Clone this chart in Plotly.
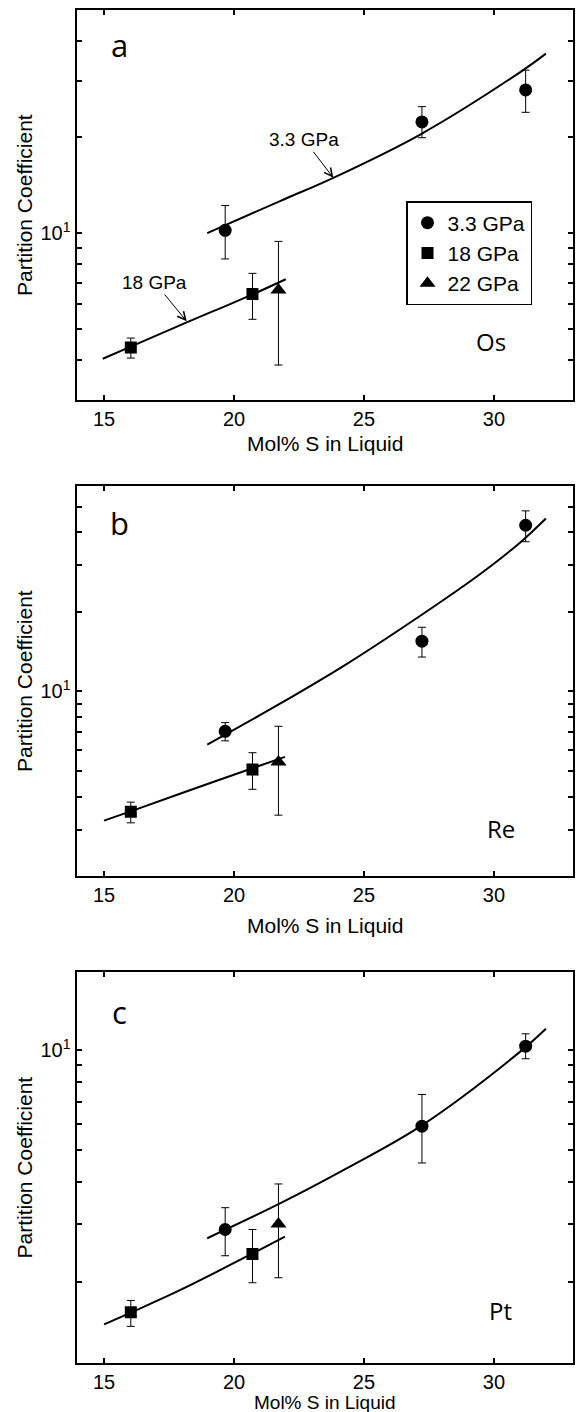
import numpy as np
import plotly.graph_objects as go

# ---------------- data ----------------
x_33 = [19.66, 27.23, 31.22]
x_18 = [16.03, 20.71]
x_22 = [21.71]

# Os
os_33 = [10.2, 22.3, 28.1]
os_33_hi = [12.2, 24.9, 32.4]
os_33_lo = [8.3, 19.9, 23.9]
os_18 = [4.38, 6.44]
os_18_hi = [4.69, 7.48]
os_18_lo = [4.06, 5.37]
os_22 = [6.63]
os_22_hi = [9.42]
os_22_lo = [3.86]

# Re
re_33 = [7.06, 15.5, 42.6]
re_33_hi = [7.62, 17.5, 48.3]
re_33_lo = [6.50, 13.5, 36.9]
re_18 = [3.50, 5.06]
re_18_hi = [3.81, 5.86]
re_18_lo = [3.18, 4.26]
re_22 = [5.41]
re_22_hi = [7.38]
re_22_lo = [3.40]

# Pt
pt_33 = [2.88, 5.90, 10.28]
pt_33_hi = [3.35, 7.35, 11.2]
pt_33_lo = [2.40, 4.57, 9.42]
pt_18 = [1.62, 2.43]
pt_18_hi = [1.76, 2.88]
pt_18_lo = [1.47, 1.99]
pt_22 = [2.99]
pt_22_hi = [3.95]
pt_22_lo = [2.06]

# fitted curves
fit33_x_os = [18.97, 21.77, 23.82, 27.18, 31.0, 32.0]
fit33_y_os = [10.0, 12.6, 14.9, 20.4, 31.9, 36.5]
fit18_x_os = [14.95, 16.03, 18.18, 20.7, 21.99]
fit18_y_os = [4.04, 4.41, 5.25, 6.42, 7.17]

fit33_x_re = [18.97, 21.77, 24.33, 27.18, 29.46, 31.0, 32.0]
fit33_y_re = [6.29, 8.99, 12.7, 19.4, 27.8, 36.6, 45.2]
fit18_x_re = [15.0, 16.05, 17.92, 20.68, 21.96]
fit18_y_re = [3.24, 3.52, 4.10, 5.11, 5.65]

fit33_x_pt = [18.97, 21.77, 24.33, 27.18, 31.0, 32.0]
fit33_y_pt = [2.71, 3.45, 4.40, 5.90, 9.88, 11.6]
fit18_x_pt = [15.0, 16.05, 17.92, 20.68, 21.96]
fit18_y_pt = [1.49, 1.62, 1.89, 2.43, 2.74]

x_ticks = [15, 20, 25, 30]
x_range = [13.94, 33.03]
legend_names = ["3.3 GPa", "18 GPa", "22 GPa"]
element_labels = ["Os", "Re", "Pt"]
panel_letters = ["a", "b", "c"]
y_ranges = [(3.0, 50.0), (2.0, 60.0), (1.14, 17.2)]

# ---------------- layout geometry (pixels) ----------------
W, H = 576, 1412
left_px, right_px = 76.5, 572.7
panel_px = [(10, 400), (486, 876), (972, 1363)]  # top, bottom
xtitle_px = [443, 925, 1402]
xtitle_size = [21, 21, 19]


def py(p):
    return 1 - p / H


def px(p):
    return p / W


FONT = "Liberation Sans, Arial, Helvetica, sans-serif"
LFONT = "Open Sans, DejaVu Sans, sans-serif"

panels = [
    dict(d33=os_33, h33=os_33_hi, l33=os_33_lo, d18=os_18, h18=os_18_hi, l18=os_18_lo,
         d22=os_22, h22=os_22_hi, l22=os_22_lo,
         f33x=fit33_x_os, f33y=fit33_y_os, f18x=fit18_x_os, f18y=fit18_y_os),
    dict(d33=re_33, h33=re_33_hi, l33=re_33_lo, d18=re_18, h18=re_18_hi, l18=re_18_lo,
         d22=re_22, h22=re_22_hi, l22=re_22_lo,
         f33x=fit33_x_re, f33y=fit33_y_re, f18x=fit18_x_re, f18y=fit18_y_re),
    dict(d33=pt_33, h33=pt_33_hi, l33=pt_33_lo, d18=pt_18, h18=pt_18_hi, l18=pt_18_lo,
         d22=pt_22, h22=pt_22_hi, l22=pt_22_lo,
         f33x=fit33_x_pt, f33y=fit33_y_pt, f18x=fit18_x_pt, f18y=fit18_y_pt),
]

fig = go.Figure()


def err(vals, hi, lo):
    return dict(type="data", symmetric=False,
                array=[h - v for v, h in zip(vals, hi)],
                arrayminus=[v - l for v, l in zip(vals, lo)],
                color="black", thickness=1, width=4)


for i, p in enumerate(panels):
    xa = "x" if i == 0 else f"x{i+1}"
    ya = "y" if i == 0 else f"y{i+1}"
    show = i == 0
    # fit curves
    fig.add_trace(go.Scatter(x=p["f33x"], y=p["f33y"], mode="lines",
                             line=dict(color="black", width=2, shape="spline", smoothing=1),
                             xaxis=xa, yaxis=ya, showlegend=False, hoverinfo="skip"))
    fig.add_trace(go.Scatter(x=p["f18x"], y=p["f18y"], mode="lines",
                             line=dict(color="black", width=2, shape="spline", smoothing=1),
                             xaxis=xa, yaxis=ya, showlegend=False, hoverinfo="skip"))
    # data
    fig.add_trace(go.Scatter(x=x_33, y=p["d33"], mode="markers", name=legend_names[0],
                             marker=dict(symbol="circle", size=13, color="black"),
                             error_y=err(p["d33"], p["h33"], p["l33"]),
                             xaxis=xa, yaxis=ya, showlegend=show))
    fig.add_trace(go.Scatter(x=x_18, y=p["d18"], mode="markers", name=legend_names[1],
                             marker=dict(symbol="square", size=12, color="black"),
                             error_y=err(p["d18"], p["h18"], p["l18"]),
                             xaxis=xa, yaxis=ya, showlegend=show))
    fig.add_trace(go.Scatter(x=x_22, y=p["d22"], mode="markers", name=legend_names[2],
                             marker=dict(symbol="triangle-up", size=14, color="black"),
                             error_y=err(p["d22"], p["h22"], p["l22"]),
                             xaxis=xa, yaxis=ya, showlegend=show))

layout = dict(
    width=W, height=H,
    margin=dict(l=0, r=0, t=0, b=0),
    paper_bgcolor="white", plot_bgcolor="white",
    font=dict(family=FONT, size=20, color="black"),
    legend=dict(x=px(406), y=py(201), xanchor="left", yanchor="top",
                bgcolor="white", bordercolor="black", borderwidth=1.5,
                font=dict(family=FONT, size=21), tracegroupgap=0),
    annotations=[],
)

for i in range(3):
    top, bot = panel_px[i]
    lo, hi = y_ranges[i]
    xkey = "xaxis" if i == 0 else f"xaxis{i+1}"
    ykey = "yaxis" if i == 0 else f"yaxis{i+1}"
    ya = "y" if i == 0 else f"y{i+1}"
    xa = "x" if i == 0 else f"x{i+1}"
    layout[xkey] = dict(domain=[px(left_px), px(right_px)], anchor=ya, range=x_range,
                        tickvals=x_ticks, ticks="inside", ticklen=5, tickwidth=1.5,
                        tickcolor="black", showline=True, linewidth=2, linecolor="black",
                        mirror="allticks", showgrid=False, zeroline=False,
                        tickfont=dict(size=20, family=FONT))
    minor_vals = []
    for dec in [1, 10]:
        for m in range(2, 10):
            v = m * dec
            if lo <= v <= hi and v != 10:
                minor_vals.append(v)
    layout[ykey] = dict(domain=[py(bot), py(top)], anchor=xa, type="log",
                        range=[np.log10(lo), np.log10(hi)],
                        tickmode="array", tickvals=[10], ticktext=["10<sup>1</sup>"],
                        ticks="inside", ticklen=5, tickwidth=1.5, tickcolor="black",
                        minor=dict(tickmode="array", tickvals=minor_vals, ticks="inside",
                                   ticklen=5, tickwidth=1.5, tickcolor="black", showgrid=False),
                        showline=True, linewidth=2, linecolor="black",
                        mirror="allticks", showgrid=False, zeroline=False,
                        tickfont=dict(size=20, family=FONT))
    # axis titles
    layout["annotations"].append(dict(text="Mol% S in Liquid", xref="paper", yref="paper",
                                      x=px((left_px + right_px) / 2), y=py(xtitle_px[i]),
                                      xanchor="center", yanchor="middle", showarrow=False,
                                      font=dict(size=xtitle_size[i], family=FONT)))
    layout["annotations"].append(dict(text="Partition Coefficient", xref="paper", yref="paper",
                                      x=px(24), y=py((top + bot) / 2), textangle=-90,
                                      xanchor="center", yanchor="middle", showarrow=False,
                                      font=dict(size=21, family=FONT)))

# panel letters and element labels
letter_pos = [(119.4, 45), (119.4, 523.3), (119.4, 1011.7)]
elem_pos = [(491.4, 341.7), (500.5, 828.3), (500.5, 1310)]
for i in range(3):
    layout["annotations"].append(dict(text=panel_letters[i], xref="paper", yref="paper",
                                      x=px(letter_pos[i][0]), y=py(letter_pos[i][1]),
                                      xanchor="center", yanchor="middle", showarrow=False,
                                      font=dict(size=31, family=LFONT)))
    layout["annotations"].append(dict(text=element_labels[i], xref="paper", yref="paper",
                                      x=px(elem_pos[i][0]), y=py(elem_pos[i][1]),
                                      xanchor="center", yanchor="middle", showarrow=False,
                                      font=dict(size=24, family=LFONT)))

# arrow labels in panel a
layout["annotations"].append(dict(text="3.3 GPa", xref="x", yref="y",
                                  x=23.82, y=np.log10(14.9), ax=-29, ay=-38,
                                  showarrow=True, arrowhead=5, arrowsize=1.6, arrowwidth=1,
                                  arrowcolor="black", font=dict(size=19, family=FONT)))
layout["annotations"].append(dict(text="18 GPa", xref="x", yref="y",
                                  x=18.18, y=np.log10(5.29), ax=-32, ay=-39,
                                  showarrow=True, arrowhead=5, arrowsize=1.6, arrowwidth=1,
                                  arrowcolor="black", font=dict(size=19, family=FONT)))

fig.update_layout(**layout)
fig.write_html("out.html")
